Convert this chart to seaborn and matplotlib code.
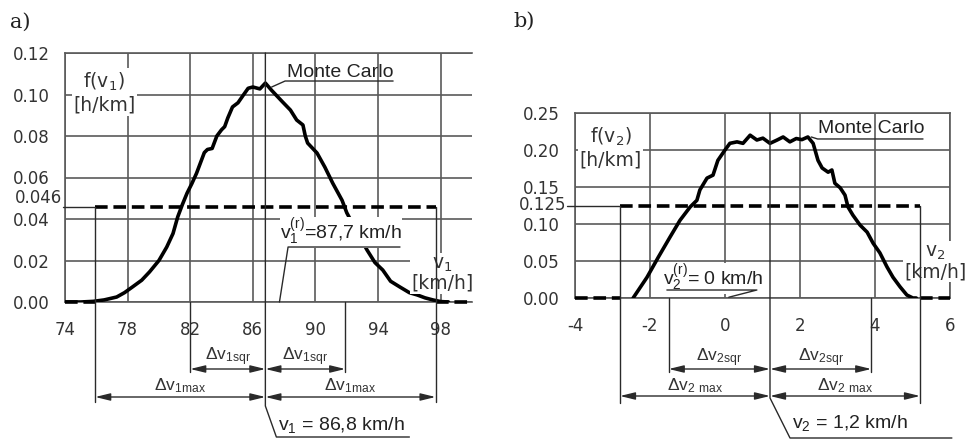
import matplotlib
matplotlib.use("Agg")
import matplotlib.pyplot as plt
import seaborn as sns

FIG_W, FIG_H, DPI = 9.74, 4.43, 100

# ---- panel a) : v1 ----
V1_MC = [74.0, 75.0, 75.8, 76.5, 77.3, 77.8, 78.3, 78.9, 79.4, 80.0, 80.5, 80.9,
         81.2, 81.5, 81.8, 82.1, 82.4, 82.7, 82.9, 83.1, 83.4, 83.7, 84.0, 84.2,
         84.4, 84.7, 85.05, 85.4, 85.7, 86.0, 86.45, 86.8, 87.2, 87.6, 87.9, 88.4,
         88.8, 89.2, 89.35, 89.5, 90.1, 90.6, 91.1, 91.7, 92.0, 92.5, 93.0, 93.3,
         93.8, 94.3, 94.8, 95.4, 96.0, 96.5, 97.0, 97.5, 98.0, 98.5]
F1_MC = [0.0, 0.0, 0.0003, 0.001, 0.0024, 0.0045, 0.0072, 0.0105, 0.0145, 0.020,
         0.0265, 0.033, 0.041, 0.047, 0.0525, 0.057, 0.062, 0.068, 0.072, 0.0735,
         0.074, 0.080, 0.083, 0.0845, 0.0887, 0.094, 0.096, 0.0998, 0.103, 0.1036,
         0.1027, 0.1055, 0.102, 0.0988, 0.0964, 0.0925, 0.0877, 0.0853, 0.080,
         0.0766, 0.0718, 0.065, 0.0573, 0.049, 0.043, 0.036, 0.029, 0.025, 0.019,
         0.0154, 0.010, 0.0072, 0.0045, 0.0034, 0.002, 0.001, 0.0002, 0.0]
V1_UNIFORM = [75.93, 97.67]
F1_UNIFORM = 0.046
V1_MEAN = 86.8
V1_REF = 87.7
V1_SQR = [82.0, 91.9]
X1_TICKS = [74, 78, 82, 86, 90, 94, 98]
Y1_TICKS = [0.00, 0.02, 0.04, 0.06, 0.08, 0.10, 0.12]

# ---- panel b) : v2 ----
V2_MC = [-2.45, -2.08, -1.78, -1.47, -1.2, -0.93, -0.75, -0.67, -0.48, -0.32,
         -0.19, 0.0, 0.13, 0.32, 0.48, 0.67, 0.85, 1.01, 1.2, 1.39, 1.55, 1.73,
         1.9, 2.05, 2.21, 2.35, 2.48, 2.59, 2.75, 2.85, 2.93, 3.07, 3.2, 3.28,
         3.41, 3.6, 3.79, 3.95, 4.13, 4.32, 4.48, 4.67, 4.85, 5.01, 5.1]
F2_MC = [0.0, 0.028, 0.055, 0.082, 0.105, 0.123, 0.132, 0.146, 0.162, 0.166,
         0.186, 0.200, 0.209, 0.211, 0.209, 0.220, 0.2135, 0.216, 0.209, 0.2135,
         0.2176, 0.211, 0.2155, 0.214, 0.2176, 0.209, 0.186, 0.1757, 0.170, 0.173,
         0.155, 0.149, 0.139, 0.123, 0.112, 0.0986, 0.089, 0.074, 0.061, 0.042,
         0.028, 0.015, 0.004, 0.0, 0.0]
V2_UNIFORM = [-2.8, 5.2]
F2_UNIFORM = 0.125
V2_MEAN = 1.2
V2_REF = 0.0
V2_SQR = [-1.5, 3.9]
X2_TICKS = [-4, -2, 0, 2, 4, 6]
Y2_TICKS = [0.00, 0.05, 0.10, 0.15, 0.20, 0.25]

GRID = "#5a5a5a"
INK = "#2a2a2a"
SANS = "Liberation Sans"

sns.set_style("white")
plt.rcParams["font.family"] = ["DejaVu Sans"]
plt.rcParams["mathtext.default"] = "regular"
plt.rcParams["axes.unicode_minus"] = False


def px_y(ax, px):
    """Convert a pixel distance to a y-data distance for this axes."""
    pos = ax.get_position()
    y0, y1 = ax.get_ylim()
    return px * (y1 - y0) / (pos.height * FIG_H * DPI)


def px_x(ax, px):
    pos = ax.get_position()
    x0, x1 = ax.get_xlim()
    return px * (x1 - x0) / (pos.width * FIG_W * DPI)


def thin(ax, xs, ys, lw=1.0):
    ax.plot(xs, ys, color=INK, lw=lw, clip_on=False, zorder=7)


def dim_arrow(ax, x0, x1, y, label, label_y):
    ax.annotate("", xy=(x0, y), xytext=(x1, y), annotation_clip=False,
                arrowprops=dict(arrowstyle="<|-|>,head_length=0.9,head_width=0.22",
                                color=INK, lw=1.0, shrinkA=0, shrinkB=0))
    ax.text((x0 + x1) / 2, label_y, label, ha="center", va="center", fontsize=12.5,
            family=SANS, color="#333333", clip_on=False)


def base_axes(ax, xlim, ylim, xticks, yticks, right_spine):
    ax.set_xlim(xlim)
    ax.set_ylim(ylim)
    ax.set_xticks(xticks)
    ax.set_yticks(yticks)
    ax.set_yticklabels([f"{t:.2f}" for t in yticks])
    ax.grid(True, color=GRID, lw=1.2, zorder=0)
    ax.set_axisbelow(True)
    for sp in ax.spines.values():
        sp.set_color(GRID)
        sp.set_linewidth(1.2)
    ax.spines["right"].set_visible(right_spine)
    ax.tick_params(axis="both", direction="out", length=6, width=1.2, color=GRID,
                   labelsize=12, labelcolor="#333333")
    ax.tick_params(axis="y", pad=5)
    ax.tick_params(axis="x", pad=8)
    ax.set_xlabel("")
    ax.set_ylabel("")


def draw_panel(ax, v_mc, f_mc, uni, f_uni, mean, sqr, xlim, ylim, offs):
    # uniform density (dashed) and Monte Carlo curve
    dash = dict(color="black", lw=2.6, linestyles=(0, (3.5, 1.6)), zorder=4)
    ax.hlines(0, xlim[0], uni[0], clip_on=False, **dash)
    ax.hlines(f_uni, uni[0], uni[1], **dash)
    ax.hlines(0, uni[1], xlim[1], clip_on=False, **dash)
    sns.lineplot(x=v_mc, y=f_mc, ax=ax, color="black", lw=2.6, zorder=5)

    # thin line from tick label to the uniform level, and bound verticals
    thin(ax, [xlim[0] - px_x(ax, offs["lvl_px"]), uni[0]], [f_uni, f_uni])
    thin(ax, [uni[0], uni[0]], [f_uni, -px_y(ax, offs["max_end"])])
    thin(ax, [uni[1], uni[1]], [f_uni, -px_y(ax, offs["max_end"])])
    # sqr bounds
    for s in sqr:
        thin(ax, [s, s], [0, -px_y(ax, offs["sqr_end"])])
    # mean line with leader to its label
    y_end = -px_y(ax, offs["mean_end"])
    y_ul = -px_y(ax, offs["mean_ul"])
    x_ul = mean + px_x(ax, offs["mean_dx"])
    thin(ax, [mean, mean, x_ul, offs["mean_ul_x1"]], [ylim[1], y_end, y_ul, y_ul])

    sqr_y, max_y = -px_y(ax, offs["sqr_y"]), -px_y(ax, offs["max_y"])
    dim_arrow(ax, sqr[0], mean, sqr_y, offs["sqr_lbl"], -px_y(ax, offs["sqr_lbl_px"]))
    dim_arrow(ax, mean, sqr[1], sqr_y, offs["sqr_lbl"], -px_y(ax, offs["sqr_lbl_px"]))
    dim_arrow(ax, uni[0], mean, max_y, offs["max_lbl"], -px_y(ax, offs["max_lbl_px"]))
    dim_arrow(ax, mean, uni[1], max_y, offs["max_lbl"], -px_y(ax, offs["max_lbl_px"]))
    ax.text(x_ul + px_x(ax, 2), -px_y(ax, offs["mean_lbl_px"]), offs["mean_lbl"],
            ha="left", va="center", fontsize=14, family=SANS, color="#222222",
            clip_on=False)


fig = plt.figure(figsize=(FIG_W, FIG_H), dpi=DPI)
ax_a = fig.add_axes([65 / 974, 1 - 302 / 443, 407 / 974, 249 / 443])
ax_b = fig.add_axes([575 / 974, 1 - 298 / 443, 375 / 974, 185 / 443])

# ---------------- panel a ----------------
base_axes(ax_a, (74, 100), (0, 0.12), X1_TICKS, Y1_TICKS, right_spine=False)
draw_panel(ax_a, V1_MC, F1_MC, V1_UNIFORM, F1_UNIFORM, V1_MEAN, V1_SQR,
           (74, 100), (0, 0.12),
           dict(lvl_px=2, max_end=100, sqr_end=70, mean_end=104, mean_ul=135,
                mean_dx=11, mean_ul_x1=96.0, sqr_y=67, max_y=95,
                sqr_lbl="Δv$_{1sqr}$", max_lbl="Δv$_{1max}$",
                sqr_lbl_px=55, max_lbl_px=84, mean_lbl_px=123,
                mean_lbl="v$_1$ = 86,8 km/h"))
ax_a.annotate("0.046", xy=(74, F1_UNIFORM), xytext=(-2, 6.5), textcoords="offset points",
              ha="right", va="center", fontsize=12, color="#333333", annotation_clip=False)
ax_a.text(76.5, 0.101, "f(v$_1$)\n[h/km]", ha="center", va="center", fontsize=13.5,
          color="#333333", linespacing=1.2, zorder=6,
          bbox=dict(facecolor="white", edgecolor="none", pad=1))
ax_a.text(98.1, 0.0135, "v$_1$\n[km/h]", ha="center", va="center", fontsize=13.5,
          color="#333333", linespacing=1.0, zorder=6, clip_on=False,
          bbox=dict(facecolor="white", edgecolor="none", pad=0.5))
# Monte Carlo label
ax_a.text(88.2, 0.1108, "Monte Carlo", ha="left", va="center", fontsize=14, family=SANS,
          color="#222222", zorder=6)
thin(ax_a, [87.2, 88.06, 94.96], [0.1036, 0.1065, 0.1065])
# reference speed label
ax_a.text(87.75, 0.0335, "v$_1^{(r)}$=87,7 km/h", ha="left", va="center", fontsize=14,
          family=SANS, color="#222222", zorder=6,
          bbox=dict(facecolor="white", edgecolor="none", pad=0))
thin(ax_a, [V1_REF, 88.25, 95.4], [0.0, 0.0265, 0.0265])

# ---------------- panel b ----------------
base_axes(ax_b, (-4, 6), (0, 0.25), X2_TICKS, Y2_TICKS, right_spine=True)
draw_panel(ax_b, V2_MC, F2_MC, V2_UNIFORM, F2_UNIFORM, V2_MEAN, V2_SQR,
           (-4, 6), (0, 0.25),
           dict(lvl_px=8, max_end=105, sqr_end=74, mean_end=100, mean_ul=140,
                mean_dx=20, mean_ul_x1=6.05, sqr_y=71, max_y=98,
                sqr_lbl="Δv$_{2sqr}$", max_lbl="Δv$_{2\\ max}$",
                sqr_lbl_px=60, max_lbl_px=88, mean_lbl_px=125,
                mean_lbl="v$_2$ = 1,2 km/h"))
ax_b.annotate("0.125", xy=(-4, F2_UNIFORM), xytext=(-6, 0), textcoords="offset points",
              ha="right", va="center", fontsize=12, color="#333333", annotation_clip=False)
ax_b.text(-3.05, 0.203, "f(v$_2$)\n[h/km]", ha="center", va="center", fontsize=13.5,
          color="#333333", linespacing=1.2, zorder=6,
          bbox=dict(facecolor="white", edgecolor="none", pad=1))
ax_b.text(5.6, 0.048, "v$_2$\n[km/h]", ha="center", va="center", fontsize=13.5,
          color="#333333", linespacing=1.0, zorder=6, clip_on=False,
          bbox=dict(facecolor="white", edgecolor="none", pad=0.5))
ax_b.text(2.49, 0.2297, "Monte Carlo", ha="left", va="center", fontsize=14, family=SANS,
          color="#222222", zorder=6)
thin(ax_b, [2.3, 2.47, 5.28], [0.2176, 0.2149, 0.2149])
ax_b.text(-1.65, 0.0265, "v$_2^{(r)}$= 0 km/h", ha="left", va="center", fontsize=14,
          family=SANS, color="#222222", zorder=6,
          bbox=dict(facecolor="white", edgecolor="none", pad=0))
thin(ax_b, [V2_REF + 0.1, 0.85, -1.55], [0.001, 0.0108, 0.0108])

fig.text(20 / 974, 1 - 22 / 443, "a)", ha="center", va="center", fontsize=15,
         family="DejaVu Serif", color="#222222")
fig.text(524 / 974, 1 - 21 / 443, "b)", ha="center", va="center", fontsize=15,
         family="DejaVu Serif", color="#222222")

fig.savefig("out.png", dpi=DPI)
